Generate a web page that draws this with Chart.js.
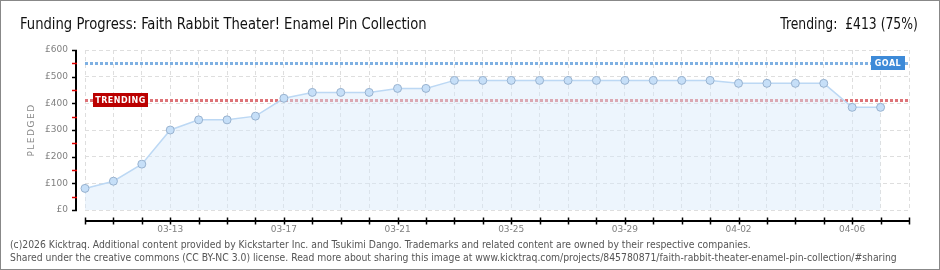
<!DOCTYPE html>
<html>
<head>
<meta charset="utf-8">
<script src="https://cdn.jsdelivr.net/npm/chart.js@4.4.1/dist/chart.umd.min.js"></script>
<style>
  html, body { margin: 0; padding: 0; background: #fff; }
  #frame { position: relative; width: 940px; height: 270px; box-sizing: border-box; border: 1px solid #888; overflow: hidden; }
  #chart { position: absolute; left: -1px; top: -1px; }
  .title { position: absolute; left: 19px; top: 13px; font: 16px "DejaVu Sans Condensed", sans-serif; color: #111; white-space: nowrap; transform: scaleX(0.915); transform-origin: left top; }
  .trend { position: absolute; right: 21px; top: 13px; font: 16px "DejaVu Sans Condensed", sans-serif; color: #111; white-space: nowrap; transform: scaleX(0.86); transform-origin: right top; }
  .foot { position: absolute; left: 9px; font: 10.3px "DejaVu Sans Condensed", sans-serif; color: #555; white-space: nowrap; }
</style>
</head>
<body>
<div id="frame">
  <canvas id="chart" width="940" height="270"></canvas>
  <div class="title">Funding Progress: Faith Rabbit Theater! Enamel Pin Collection</div>
  <div class="trend">Trending:&nbsp; £413 (75%)</div>
  <div class="foot" style="top:237px">(c)2026 Kicktraq. Additional content provided by Kickstarter Inc. and Tsukimi Dango. Trademarks and related content are owned by their respective companies.</div>
  <div class="foot" style="top:250px">Shared under the creative commons (CC BY-NC 3.0) license. Read more about sharing this image at www.kicktraq.com/projects/845780871/faith-rabbit-theater-enamel-pin-collection/#sharing</div>
</div>
<script>
// ---------- data ----------
const days = ['03-10', '03-11', '03-12', '03-13', '03-14', '03-15', '03-16', '03-17', '03-18', '03-19',
              '03-20', '03-21', '03-22', '03-23', '03-24', '03-25', '03-26', '03-27', '03-28', '03-29',
              '03-30', '03-31', '04-01', '04-02', '04-03', '04-04', '04-05', '04-06', '04-07', '04-08'];
const pledged = [81, 108, 172, 300, 338, 338, 352, 419, 441, 441,
                 441, 456, 456, 486, 486, 486, 486, 486, 486, 486,
                 486, 486, 486, 475, 475, 475, 475, 385, 385, null];
const yTicks = [0, 100, 200, 300, 400, 500, 600];
const goal = 550;
const trending = 413;

const labelFont = { family: 'DejaVu Sans', size: 9 };

// axis lines, tick marks, goal / trending lines and badges
const kicktraqDecor = {
    id: 'kicktraqDecor',
    beforeDatasetsDraw(chart) {
        const { ctx, chartArea: a, scales: { y } } = chart;
        ctx.save();
        ctx.lineWidth = 3;
        ctx.setLineDash([3, 2]);
        ctx.strokeStyle = '#7eb0e2';
        let gy = Math.round(y.getPixelForValue(goal)) + 0.5;
        ctx.beginPath(); ctx.moveTo(a.left, gy); ctx.lineTo(a.right, gy); ctx.stroke();
        ctx.strokeStyle = '#de7378';
        let ty = Math.round(y.getPixelForValue(trending)) + 0.5;
        ctx.beginPath(); ctx.moveTo(a.left, ty); ctx.lineTo(a.right, ty); ctx.stroke();
        ctx.restore();
    },
    afterDatasetsDraw(chart) {
        const { ctx, chartArea: a, scales: { x, y } } = chart;
        ctx.save();
        // y axis
        const ax = a.left - 9;
        ctx.strokeStyle = '#000';
        ctx.lineWidth = 2;
        ctx.beginPath(); ctx.moveTo(ax, y.getPixelForValue(600)); ctx.lineTo(ax, y.getPixelForValue(0) + 1); ctx.stroke();
        ctx.lineWidth = 1.5;
        for (let v = 0; v <= 600; v += 50) {
            const py = Math.round(y.getPixelForValue(v)) + 0.5;
            ctx.strokeStyle = v % 100 === 0 ? '#000' : '#e00000';
            ctx.beginPath(); ctx.moveTo(ax - 4, py); ctx.lineTo(ax + 1, py); ctx.stroke();
        }
        // x axis
        const bx = a.bottom + 11;
        ctx.strokeStyle = '#000';
        ctx.lineWidth = 2;
        ctx.beginPath(); ctx.moveTo(a.left, bx); ctx.lineTo(a.right + 1, bx); ctx.stroke();
        ctx.lineWidth = 1.5;
        days.forEach((d, i) => {
            const px = Math.round(x.getPixelForValue(i)) + 0.5;
            ctx.beginPath(); ctx.moveTo(px, bx - 3.5); ctx.lineTo(px, bx + 3.5); ctx.stroke();
        });
        // y title
        ctx.fillStyle = '#888';
        ctx.font = '9px "DejaVu Sans"';
        ctx.letterSpacing = '1.5px';
        ctx.translate(32, (a.top + a.bottom) / 2);
        ctx.rotate(-Math.PI / 2);
        ctx.textAlign = 'center';
        ctx.textBaseline = 'middle';
        ctx.fillText('PLEDGED', 0, 0);
        ctx.restore();

        // badges
        ctx.save();
        ctx.font = 'bold 8px "DejaVu Sans"';
        ctx.letterSpacing = '0.5px';
        ctx.textBaseline = 'middle';
        ctx.textAlign = 'center';
        const gy = Math.round(y.getPixelForValue(goal));
        ctx.fillStyle = '#3d8ad8';
        ctx.fillRect(a.right - 38, gy - 7, 34, 14);
        ctx.fillStyle = '#fff';
        ctx.fillText('GOAL', a.right - 21, gy + 0.5);
        const ty = Math.round(y.getPixelForValue(trending));
        ctx.fillStyle = '#bb0000';
        ctx.fillRect(a.left + 8, ty - 7, 55, 14);
        ctx.fillStyle = '#fff';
        ctx.fillText('TRENDING', a.left + 35.5, ty + 0.5);
        ctx.restore();
    }
};

new Chart(document.getElementById('chart'), {
    type: 'line',
    data: {
        labels: days,
        datasets: [{
            data: pledged,
            borderColor: '#bcd8f4',
            borderWidth: 1.5,
            backgroundColor: 'rgba(214,232,251,0.45)',
            fill: 'origin',
            tension: 0,
            pointRadius: 4,
            pointBackgroundColor: '#c6dff8',
            pointBorderColor: '#98b2cf',
            pointBorderWidth: 1
        }]
    },
    options: {
        responsive: false,
        animation: false,
        layout: { padding: { left: 0, top: 50, right: 31, bottom: 0 } },
        plugins: { legend: { display: false }, tooltip: { enabled: false } },
        scales: {
            x: {
                offset: false,
                grid: { color: '#dedede', drawTicks: false },
                border: { display: false, dash: [4, 3] },
                ticks: {
                    autoSkip: false, maxRotation: 0, padding: 14, color: '#808080', font: labelFont,
                    callback: (v, i) => (i % 4 === 3 ? days[i] : '')
                },
                afterFit: s => { s.height = 60; }
            },
            y: {
                min: 0, max: 600,
                afterBuildTicks: s => { s.ticks = yTicks.map(v => ({ value: v })); },
                grid: { color: '#dedede', drawTicks: false },
                border: { display: false, dash: [4, 3] },
                ticks: { padding: 17, color: '#808080', font: labelFont, callback: v => '£' + v },
                afterFit: s => { s.width = 85; }
            }
        }
    },
    plugins: [kicktraqDecor]
});
</script>
</body>
</html>
